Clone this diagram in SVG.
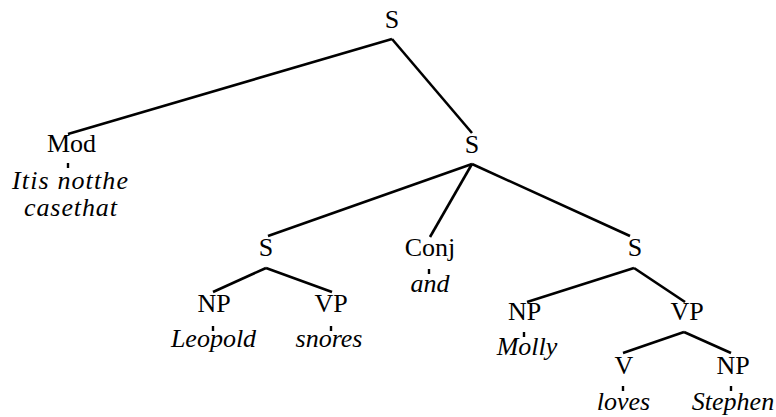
<svg xmlns="http://www.w3.org/2000/svg" width="776" height="417" viewBox="0 0 776 417" font-family="Liberation Serif, serif" font-size="26">
  <style>
    .cat { text-anchor: middle; }
    .word { font-style: italic; }
    .mid { text-anchor: middle; }
    .edge { stroke: #000; stroke-width: 2.6; fill: none; }
    .tick { stroke: #000; stroke-width: 2.4; }
  </style>
  <rect width="776" height="417" fill="#fff"/>

  <!-- branches of the parse tree -->
  <g id="connectors">
    <line class="edge" x1="392" y1="39" x2="68" y2="134"/>
    <line class="edge" x1="392" y1="39" x2="472" y2="133"/>
    <line class="edge" x1="472" y1="164" x2="268" y2="236"/>
    <line class="edge" x1="472" y1="164" x2="430" y2="237"/>
    <line class="edge" x1="472" y1="164" x2="630" y2="236"/>
    <line class="edge" x1="266" y1="268" x2="213" y2="292"/>
    <line class="edge" x1="266" y1="268" x2="332" y2="292"/>
    <line class="edge" x1="634" y1="268" x2="527" y2="302"/>
    <line class="edge" x1="634" y1="268" x2="685" y2="302"/>
    <line class="edge" x1="684" y1="332" x2="623" y2="353"/>
    <line class="edge" x1="684" y1="332" x2="731" y2="353"/>
    <!-- short ticks from pre-terminals to words -->
    <line class="tick" x1="68" y1="163" x2="68" y2="168"/>
    <line class="tick" x1="429" y1="269" x2="429" y2="274"/>
    <line class="tick" x1="213" y1="326" x2="213" y2="331"/>
    <line class="tick" x1="331" y1="326" x2="331" y2="331"/>
    <line class="tick" x1="524" y1="332" x2="524" y2="337"/>
    <line class="tick" x1="623" y1="386" x2="623" y2="391"/>
    <line class="tick" x1="731" y1="386" x2="731" y2="391"/>
  </g>

  <g id="s-root"><text class="cat" x="392" y="28">S</text></g>
  <g id="mod">
    <text class="cat" x="71.5" y="152">Mod</text>
    <text class="word" x="12" y="189" textLength="116" lengthAdjust="spacing">Itis notthe</text>
    <text class="word" x="24" y="216" textLength="93" lengthAdjust="spacing">casethat</text>
  </g>
  <g id="s-coord"><text class="cat" x="472" y="153">S</text></g>

  <g id="s-left"><text class="cat" x="266" y="256">S</text></g>
  <g id="np-leopold">
    <text class="cat" x="214" y="312">NP</text>
    <text class="word mid" x="213.5" y="347">Leopold</text>
  </g>
  <g id="vp-snores">
    <text class="cat" x="331" y="312">VP</text>
    <text class="word mid" x="329" y="347">snores</text>
  </g>

  <g id="conj">
    <text class="cat" x="430" y="256">Conj</text>
    <text class="word mid" x="430" y="292">and</text>
  </g>

  <g id="s-right"><text class="cat" x="635" y="256">S</text></g>
  <g id="np-molly">
    <text class="cat" x="524.5" y="320">NP</text>
    <text class="word mid" x="527" y="355">Molly</text>
  </g>
  <g id="vp-loves"><text class="cat" x="687" y="320">VP</text></g>
  <g id="v-loves">
    <text class="cat" x="624" y="374">V</text>
    <text class="word mid" x="623.5" y="410">loves</text>
  </g>
  <g id="np-stephen">
    <text class="cat" x="733" y="374">NP</text>
    <text class="word mid" x="733" y="410">Stephen</text>
  </g>
</svg>
